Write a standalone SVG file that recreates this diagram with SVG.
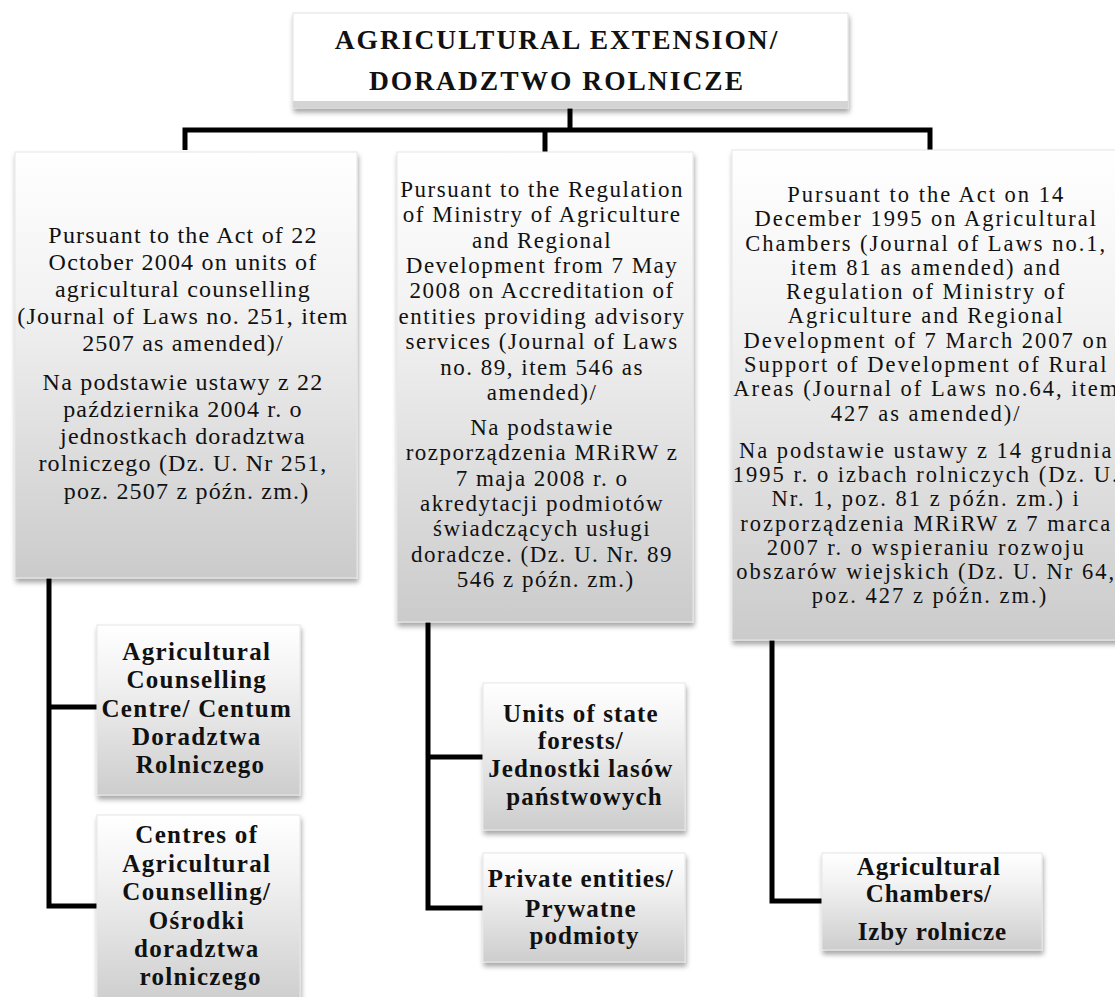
<svg xmlns="http://www.w3.org/2000/svg" width="1115" height="997" viewBox="0 0 1115 997">
<defs>
<linearGradient id="gBig" x1="0" y1="0" x2="0" y2="1">
<stop offset="0" stop-color="#ffffff"/>
<stop offset="0.35" stop-color="#f2f2f2"/>
<stop offset="1" stop-color="#cbcbcb"/>
</linearGradient>
<linearGradient id="gSmall" x1="0" y1="0" x2="0" y2="1">
<stop offset="0" stop-color="#ffffff"/>
<stop offset="0.3" stop-color="#f3f3f3"/>
<stop offset="1" stop-color="#cdcdcd"/>
</linearGradient>
<filter id="sh" x="-10%" y="-10%" width="125%" height="125%">
<feDropShadow dx="1" dy="4" stdDeviation="2.5" flood-color="#000" flood-opacity="0.35"/>
</filter>
</defs>
<style>
.box{filter:url(#sh);}
.big{fill:url(#gBig);stroke:#e6e6e6;stroke-width:1;}
.small{fill:url(#gSmall);stroke:#e6e6e6;stroke-width:1;}
.top{fill:#ffffff;stroke:#e2e2e2;stroke-width:1;}
.t{font-family:"Liberation Serif","Times New Roman","DejaVu Serif",serif;fill:#111;text-anchor:middle;}
.b{font-weight:bold;}
.con{fill:none;stroke:#000;stroke-width:5;stroke-linejoin:miter;stroke-linecap:butt;}
</style>
<rect width="1115" height="997" fill="#ffffff"/>

<g id="connectors">
<path class="con" d="M570,108 V130"/>
<path class="con" d="M185,150 V130 H930 V150"/>
<path class="con" d="M545,130 V152"/>
<path class="con" d="M49,578 V906 H97"/>
<path class="con" d="M49,707 H97"/>
<path class="con" d="M428,622 V908 H483"/>
<path class="con" d="M428,757 H483"/>
<path class="con" d="M772,640 V901 H822"/>
</g>

<g id="node-root">
<rect class="box top" x="293" y="13" width="555" height="95"/>
<rect x="293" y="101" width="555" height="7" fill="#d4d4d4"/>
<text class="t b" font-size="27.5" letter-spacing="2"><tspan x="557" y="49">AGRICULTURAL EXTENSION/</tspan><tspan x="557" y="90">DORADZTWO ROLNICZE</tspan></text>
</g>

<g id="node-left">
<rect class="box big" x="15" y="152" width="342" height="426"/>
<text class="t" font-size="24" letter-spacing="1.2">
<tspan x="186.6" y="243">Pursuant to the Act of 22</tspan>
<tspan x="186.6" y="270">October 2004 on units of</tspan>
<tspan x="186.6" y="297">agricultural counselling</tspan>
<tspan x="186.6" y="324">(Journal of Laws no. 251, item</tspan>
<tspan x="186.6" y="351">2507 as amended)/</tspan>
<tspan x="186.6" y="390">Na podstawie ustawy z 22</tspan>
<tspan x="186.6" y="417">października 2004 r. o</tspan>
<tspan x="186.6" y="444">jednostkach doradztwa</tspan>
<tspan x="186.6" y="471">rolniczego (Dz. U. Nr 251,</tspan>
<tspan x="186.6" y="499">poz. 2507 z późn. zm.)</tspan>
</text>
</g>

<g id="node-middle">
<rect class="box big" x="397" y="152" width="296" height="470"/>
<text class="t" font-size="23" letter-spacing="1.5">
<tspan x="545.7" y="197">Pursuant to the Regulation</tspan>
<tspan x="545.7" y="222">of Ministry of Agriculture</tspan>
<tspan x="545.7" y="248">and Regional</tspan>
<tspan x="545.7" y="273">Development from 7 May</tspan>
<tspan x="545.7" y="298">2008 on Accreditation of</tspan>
<tspan x="545.7" y="324">entities providing advisory</tspan>
<tspan x="545.7" y="349">services (Journal of Laws</tspan>
<tspan x="545.7" y="375">no. 89, item 546 as</tspan>
<tspan x="545.7" y="400">amended)/</tspan>
<tspan x="545.7" y="435">Na podstawie</tspan>
<tspan x="545.7" y="460">rozporządzenia MRiRW z</tspan>
<tspan x="545.7" y="486">7 maja 2008 r. o</tspan>
<tspan x="545.7" y="511">akredytacji podmiotów</tspan>
<tspan x="545.7" y="536">świadczących usługi</tspan>
<tspan x="545.7" y="562">doradcze. (Dz. U. Nr. 89</tspan>
<tspan x="545.7" y="587">546 z późn. zm.)</tspan>
</text>
</g>

<g id="node-right">
<rect class="box big" x="732" y="150" width="394" height="490"/>
<text class="t" font-size="22.5" letter-spacing="2">
<tspan x="930" y="202">Pursuant to the Act on 14</tspan>
<tspan x="930" y="226">December 1995 on Agricultural</tspan>
<tspan x="930" y="251">Chambers (Journal of Laws no.1,</tspan>
<tspan x="930" y="275">item 81 as amended) and</tspan>
<tspan x="930" y="299">Regulation of Ministry of</tspan>
<tspan x="930" y="323">Agriculture and Regional</tspan>
<tspan x="930" y="348">Development of 7 March 2007 on</tspan>
<tspan x="930" y="372">Support of Development of Rural</tspan>
<tspan x="930" y="396">Areas (Journal of Laws no.64, item</tspan>
<tspan x="930" y="421">427 as amended)/</tspan>
<tspan x="930" y="458">Na podstawie ustawy z 14 grudnia</tspan>
<tspan x="930" y="482">1995 r. o izbach rolniczych (Dz. U.</tspan>
<tspan x="930" y="506">Nr. 1, poz. 81 z późn. zm.) i</tspan>
<tspan x="930" y="531">rozporządzenia MRiRW z 7 marca</tspan>
<tspan x="930" y="555">2007 r. o wspieraniu rozwoju</tspan>
<tspan x="930" y="579">obszarów wiejskich (Dz. U. Nr 64,</tspan>
<tspan x="930" y="603">poz. 427 z późn. zm.)</tspan>
</text>
</g>

<g id="node-acc">
<rect class="box small" x="97" y="625" width="203" height="170"/>
<text class="t b" font-size="25" letter-spacing="1.3">
<tspan x="200.6" y="660">Agricultural</tspan>
<tspan x="200.6" y="688">Counselling</tspan>
<tspan x="200.6" y="717">Centre/ Centum</tspan>
<tspan x="200.6" y="745">Doradztwa</tspan>
<tspan x="200.6" y="773">Rolniczego</tspan>
</text>
</g>

<g id="node-cac">
<rect class="box small" x="97" y="815" width="203" height="190"/>
<text class="t b" font-size="25" letter-spacing="1.3">
<tspan x="200.6" y="843">Centres of</tspan>
<tspan x="200.6" y="872">Agricultural</tspan>
<tspan x="200.6" y="900">Counselling/</tspan>
<tspan x="200.6" y="929">Ośrodki</tspan>
<tspan x="200.6" y="957">doradztwa</tspan>
<tspan x="200.6" y="985">rolniczego</tspan>
</text>
</g>

<g id="node-forests">
<rect class="box small" x="483" y="683" width="202" height="147"/>
<text class="t b" font-size="25" letter-spacing="1.1">
<tspan x="584.5" y="722">Units of state</tspan>
<tspan x="584.5" y="749">forests/</tspan>
<tspan x="584.5" y="777">Jednostki lasów</tspan>
<tspan x="584.5" y="805">państwowych</tspan>
</text>
</g>

<g id="node-private">
<rect class="box small" x="483" y="853" width="202" height="109"/>
<text class="t b" font-size="25" letter-spacing="1.1">
<tspan x="584.5" y="887">Private entities/</tspan>
<tspan x="584.5" y="917">Prywatne</tspan>
<tspan x="584.5" y="944">podmioty</tspan>
</text>
</g>

<g id="node-chambers">
<rect class="box small" x="822" y="853" width="220" height="97"/>
<text class="t b" font-size="25" letter-spacing="0.9">
<tspan x="932.4" y="875">Agricultural</tspan>
<tspan x="932.4" y="902">Chambers/</tspan>
<tspan x="932.4" y="940">Izby rolnicze</tspan>
</text>
</g>
</svg>
